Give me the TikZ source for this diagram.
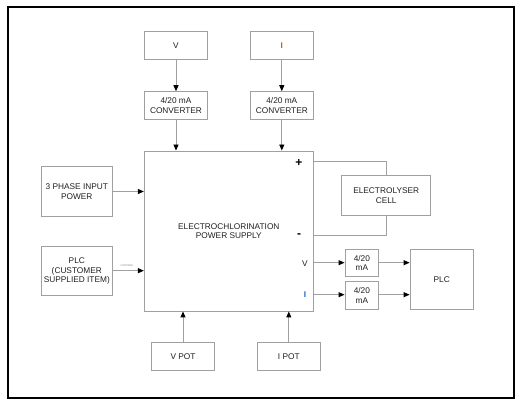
\documentclass[tikz,border=0pt]{standalone}
\usepackage{fontspec}
\setmainfont{Liberation Sans}
\usetikzlibrary{arrows.meta}
\definecolor{boxgray}{RGB}{160,160,160}
\definecolor{txt}{RGB}{30,30,30}
\definecolor{iorange}{RGB}{190,95,20}
\definecolor{iblue}{RGB}{30,100,200}
\tikzset{
  box/.style={draw=boxgray, line width=0.9pt, rectangle, inner sep=0pt, align=center, text=txt,
    font=\fontsize{8.3}{9.6}\selectfont},
  wire/.style={draw=boxgray, line width=0.9pt},
  arr/.style={wire, -{Triangle[length=6pt,width=5pt,black]}},
  lbl/.style={inner sep=0pt, text=txt, font=\fontsize{8.3}{9.6}\selectfont},
  sign/.style={inner sep=0pt, text=black, font=\bfseries\fontsize{12}{12}\selectfont},
  tiny/.style={inner sep=0pt, text=gray, font=\fontsize{2.6}{3}\selectfont}
}
\begin{document}
\begin{tikzpicture}[x=1pt,y=-1pt]
\useasboundingbox (0,0) rectangle (525,411);
\draw[line width=2pt, black] (8,7) rectangle (514.3,397.7);

\node[box, minimum width=63.4pt, minimum height=27.6pt] (v) at (176,45.5) {V};
\node[box, minimum width=63pt, minimum height=27.6pt] (i) at (281.8,45.5) {\textcolor{iorange}{\bfseries I}};
\node[box, minimum width=63.4pt, minimum height=27.6pt] (vconv) at (176,105.5) {4/20 mA\\CONVERTER};
\node[box, minimum width=63pt, minimum height=27.6pt] (iconv) at (281.8,105.5) {4/20 mA\\CONVERTER};

\node[box, minimum width=169pt, minimum height=160pt] (main) at (228.8,231) {ELECTROCHLORINATION\\POWER SUPPLY};

\node[box, minimum width=71.7pt, minimum height=49.6pt] (ph) at (76.8,191.5) {3 PHASE INPUT\\POWER};
\node[box, minimum width=71.7pt, minimum height=49.3pt] (plcc) at (76.8,271.3) {PLC\\(CUSTOMER\\SUPPLIED ITEM)};

\node[box, minimum width=89pt, minimum height=39.6pt] (elec) at (386.2,195.5) {ELECTROLYSER\\CELL};

\node[box, minimum width=33.7pt, minimum height=27.4pt] (c1) at (361.85,263) {4/20\\mA};
\node[box, minimum width=33.7pt, minimum height=27.6pt] (c2) at (361.85,295.5) {4/20\\mA};
\node[box, minimum width=63.3pt, minimum height=60pt] (plc) at (441.7,279.3) {PLC};

\node[box, minimum width=62.6pt, minimum height=28pt] (vpot) at (183,356.7) {V POT};
\node[box, minimum width=63pt, minimum height=28pt] (ipot) at (288.8,356.7) {I POT};

\node[sign] (plus) at (299,163.3) {+};
\node[sign] (minus) at (299,236) {-};
\node[lbl] (vl) at (305,263.3) {V};
\node[lbl, text=iblue] (il) at (305,294.3) {\bfseries I};
\node[tiny] (ctl) at (127,265.5) {CONTROL};

\coordinate (pout) at (313.3,161.7);
\coordinate (mout) at (313.3,235);
\coordinate (vout) at (313.3,262.7);
\coordinate (iout) at (313.3,294.7);

\draw[arr] (v.south) -- (vconv.north);
\draw[arr] (i.south -| iconv.north) -- (iconv.north);
\draw[arr] (vconv.south) -- (vconv.south |- main.north);
\draw[arr] (iconv.south) -- (iconv.south |- main.north);
\draw[arr] (ph.east) -- (ph.east -| main.west);
\draw[arr] (plcc.east |- 0,270.7) -- (main.west |- 0,270.7);
\draw[wire] (pout) -- (pout -| elec.north) -- (elec.north);
\draw[wire] (mout) -- (mout -| elec.south) -- (elec.south);
\draw[arr] (vout) -- (vout -| c1.west);
\draw[arr] (iout) -- (iout -| c2.west);
\draw[arr] (c1.east |- vout) -- (plc.west |- vout);
\draw[arr] (c2.east |- iout) -- (plc.west |- iout);
\draw[arr] (vpot.north) -- (vpot.north |- main.south);
\draw[arr] (ipot.north) -- (ipot.north |- main.south);
\end{tikzpicture}
\end{document}
